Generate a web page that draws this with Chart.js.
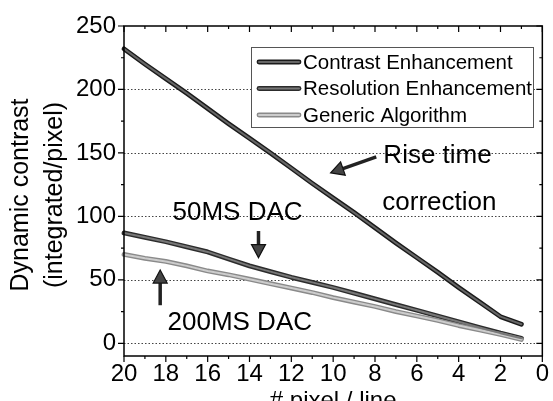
<!DOCTYPE html>
<html><head><meta charset="utf-8">
<script src="https://cdn.jsdelivr.net/npm/chart.js@4/dist/chart.umd.min.js"></script>
<style>html,body{margin:0;padding:0;background:#fff;}#wrap{width:553px;height:401px;position:relative;}</style>
</head><body><div id="wrap"><canvas id="c" width="553" height="401"></canvas></div>
<script>
// ---- data ----
const pixelsPerLine = [20,19,18,17,16,15,14,13,12,11,10,9,8,7,6,5,4,3,2,1];
const contrastEnhancement = [232,220,208.5,197,185,173,161.5,150,138,126,114.5,103,91,79,67.5,56,44,32.5,21,15];
const resolutionEnhancement = [87,83.5,80,76,72,66.5,61,56.5,52,48,44,39.5,35,30.5,26,21.5,17,12.5,8,4];
const genericAlgorithm = [70,67,64.5,61,57,54,50.5,47,43.5,40,36,32.5,29,25,21.5,18,14,10.5,7,3];
const seriesNames = ['Contrast Enhancement','Resolution Enhancement','Generic Algorithm'];
const xTickValues = [20,18,16,14,12,10,8,6,4,2,0];
const yTickValues = [0,50,100,150,200,250];
const xTitle = '# pixel / line';
const yTitleLines = ['Dynamic contrast','(integrated/pixel)'];
const annotations = [
  {text:'Rise time', x:7.6, y:147.5, align:'left'},
  {text:'correction', x:4.92, y:111, align:'center'},
  {text:'50MS DAC', x:17.68, y:102.7, align:'left'},
  {text:'200MS DAC', x:17.92, y:15.8, align:'left'}
];
const arrows = [
  {from:[7.94,146.9], to:[10.12,134.3]},
  {from:[13.57,88.5], to:[13.57,67.5]},
  {from:[18.27,30], to:[18.27,57.7]}
];

const FONT = '"Liberation Sans", Arial, sans-serif';
const styles = [
  {outer:'#1a1a1a', inner:'#666666'},
  {outer:'#2c2c2c', inner:'#777777'},
  {outer:'#8a8a8a', inner:'#cccccc'}
];
const toPts = arr => arr.map((v,i)=>({x:pixelsPerLine[i], y:v}));

const custom = {
  id:'custom',
  beforeDatasetsDraw(chart){
    const {ctx, chartArea:a, scales:{x,y}} = chart;
    ctx.save();
    ctx.strokeStyle='#444'; ctx.lineWidth=1; ctx.setLineDash([1.5,2]);
    yTickValues.forEach(v=>{ if(v===250) return; const py=Math.round(y.getPixelForValue(v))+0.5;
      ctx.beginPath(); ctx.moveTo(a.left,py); ctx.lineTo(a.right,py); ctx.stroke(); });
    ctx.setLineDash([]);
    chart.data.datasets.forEach((ds,i)=>{
      const meta=chart.getDatasetMeta(i);
      ctx.beginPath();
      meta.data.forEach((p,j)=>{ j?ctx.lineTo(p.x,p.y):ctx.moveTo(p.x,p.y); });
      ctx.strokeStyle=styles[i].outer; ctx.lineWidth=4.8; ctx.lineJoin='round'; ctx.lineCap='round'; ctx.stroke();
    });
    ctx.restore();
  },
  afterDatasetsDraw(chart){
    const {ctx, chartArea:a, scales:{x,y}} = chart;
    ctx.save();
    ctx.strokeStyle='#000'; ctx.lineWidth=1.5;
    ctx.strokeRect(a.left,a.top,a.right-a.left,a.bottom-a.top);
    ctx.lineWidth=1.2;
    for(let v=0; v<=20; v++){
      const px=x.getPixelForValue(v); const len = v%2===0?6:3;
      ctx.beginPath(); ctx.moveTo(px,a.bottom); ctx.lineTo(px,a.bottom+len);
      ctx.moveTo(px,a.top); ctx.lineTo(px,a.top+len); ctx.stroke();
    }
    for(let v=0; v<=250; v+=25){
      const py=y.getPixelForValue(v); const len = v%50===0?6:3;
      ctx.beginPath(); ctx.moveTo(a.left,py); ctx.lineTo(a.left-len,py);
      ctx.moveTo(a.right,py); ctx.lineTo(a.right-len,py); ctx.stroke();
    }
    // legend
    const lx=251, ly=47, lw=282, lh=80;
    ctx.fillStyle='#fff'; ctx.fillRect(lx,ly,lw,lh);
    ctx.strokeStyle='#555'; ctx.lineWidth=1; ctx.strokeRect(lx+0.5,ly+0.5,lw,lh);
    ctx.font='20.5px '+FONT; ctx.textBaseline='middle'; ctx.textAlign='left';
    seriesNames.forEach((n,i)=>{
      const yy=ly+15+i*26.5;
      ctx.lineCap='round';
      ctx.beginPath(); ctx.moveTo(259,yy); ctx.lineTo(299,yy);
      ctx.strokeStyle=styles[i].outer; ctx.lineWidth=4.8; ctx.stroke();
      ctx.strokeStyle=styles[i].inner; ctx.lineWidth=2; ctx.stroke();
      ctx.fillStyle='#000'; ctx.fillText(n,303,yy+1);
    });
    // annotations
    ctx.font='26px '+FONT; ctx.fillStyle='#000';
    annotations.forEach(an=>{ ctx.textAlign=an.align; ctx.fillText(an.text, x.getPixelForValue(an.x), y.getPixelForValue(an.y)); });
    arrows.forEach(ar=>{
      const x0=x.getPixelForValue(ar.from[0]), y0=y.getPixelForValue(ar.from[1]);
      const x1=x.getPixelForValue(ar.to[0]), y1=y.getPixelForValue(ar.to[1]);
      const ang=Math.atan2(y1-y0,x1-x0); const hl=13, hw=7;
      const bx=x1-hl*Math.cos(ang), by=y1-hl*Math.sin(ang);
      ctx.strokeStyle='#222'; ctx.lineWidth=3.5; ctx.lineCap='butt';
      ctx.beginPath(); ctx.moveTo(x0,y0); ctx.lineTo(bx,by); ctx.stroke();
      ctx.fillStyle='#444'; ctx.strokeStyle='#111'; ctx.lineWidth=1.2;
      ctx.beginPath(); ctx.moveTo(x1,y1);
      ctx.lineTo(bx+hw*Math.sin(ang), by-hw*Math.cos(ang));
      ctx.lineTo(bx-hw*Math.sin(ang), by+hw*Math.cos(ang));
      ctx.closePath(); ctx.fill(); ctx.stroke();
    });
    // titles
    ctx.fillStyle='#000'; ctx.font='24px '+FONT; ctx.textAlign='center'; ctx.textBaseline='middle';
    ctx.fillText(xTitle,(a.left+a.right)/2,401);
    ctx.font='25px '+FONT;
    ctx.save(); ctx.translate(0,195); ctx.rotate(-Math.PI/2);
    ctx.fillText(yTitleLines[0],0,21); ctx.fillText(yTitleLines[1],0,55);
    ctx.restore();
    ctx.restore();
  }
};

new Chart(document.getElementById('c'),{
  type:'line',
  data:{datasets:[
    {label:seriesNames[0], data:toPts(contrastEnhancement), borderColor:styles[0].inner},
    {label:seriesNames[1], data:toPts(resolutionEnhancement), borderColor:styles[1].inner},
    {label:seriesNames[2], data:toPts(genericAlgorithm), borderColor:styles[2].inner}
  ]},
  options:{
    responsive:false, animation:false, devicePixelRatio:1,
    layout:{padding:{top:26,right:6,left:0,bottom:0}},
    elements:{line:{borderWidth:2, tension:0, borderJoinStyle:'round', borderCapStyle:'round'}, point:{radius:0}},
    plugins:{legend:{display:false}, tooltip:{enabled:false}},
    scales:{
      x:{type:'linear', reverse:true, min:0, max:20,
        grid:{display:false, drawTicks:false}, border:{display:false},
        afterBuildTicks:s=>{s.ticks=xTickValues.map(v=>({value:v}));},
        ticks:{font:{size:24,family:FONT}, color:'#000', padding:4, maxRotation:0, autoSkip:false},
        afterFit:s=>{s.height=45;}},
      y:{type:'linear', min:-10, max:250,
        grid:{display:false, drawTicks:false}, border:{display:false},
        afterBuildTicks:s=>{s.ticks=yTickValues.map(v=>({value:v}));},
        ticks:{font:{size:24,family:FONT}, color:'#000', padding:8},
        afterFit:s=>{s.width=124;}}
    }
  },
  plugins:[custom]
});
</script></body></html>
